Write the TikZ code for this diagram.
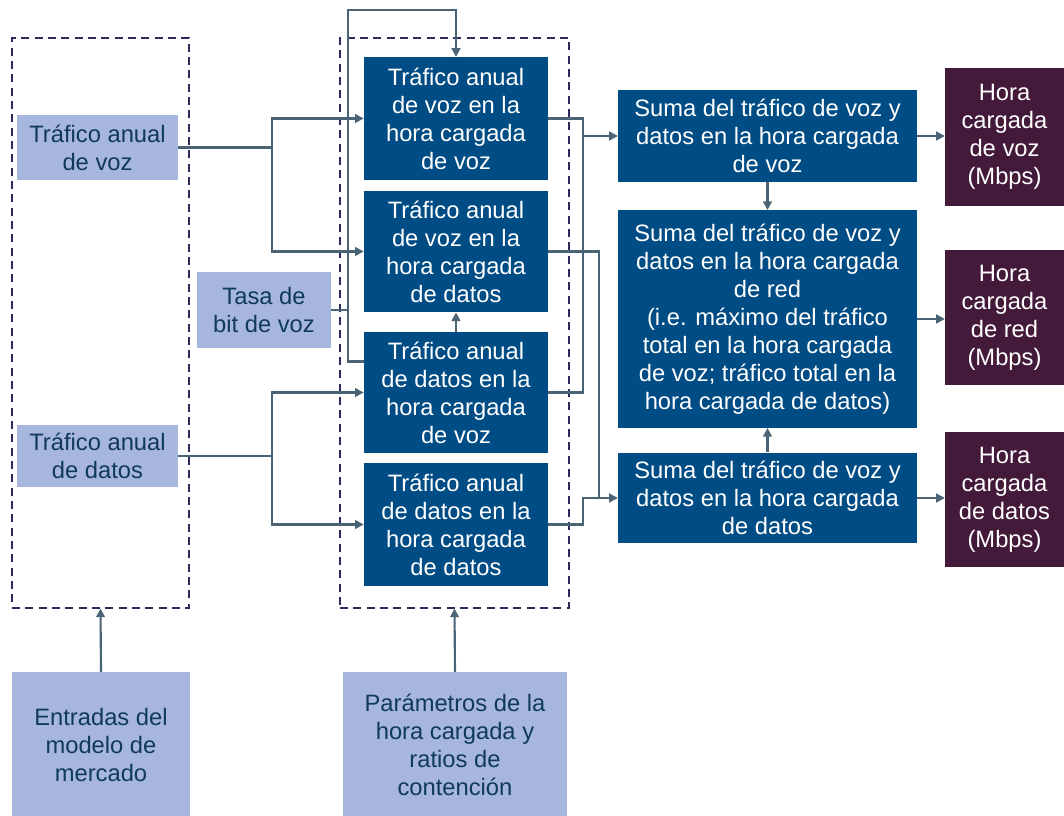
\documentclass[tikz,border=0pt]{standalone}
\usepackage{fontspec}
\setmainfont{Liberation Sans}
\usetikzlibrary{arrows.meta,calc}
\definecolor{lightbox}{HTML}{A6B6DC}
\definecolor{darkbox}{HTML}{004C84}
\definecolor{plumbox}{HTML}{441A3A}
\definecolor{wire}{HTML}{4A6476}
\definecolor{frameline}{HTML}{2C2B5E}
\definecolor{inktext}{HTML}{103A5C}
\begin{document}
\begin{tikzpicture}[x=0.75pt,y=-0.75pt,
    every node/.style={font=\fontsize{17.8}{21}\selectfont, align=center, inner sep=0pt},
    inbox/.style={fill=lightbox, text=inktext},
    calcbox/.style={fill=darkbox, text=white},
    outbox/.style={fill=plumbox, text=white},
    frame/.style={draw=frameline, line width=1.3pt, dash pattern=on 6pt off 4pt},
    arr/.style={draw=wire, line width=1.6pt, -{Triangle[length=6.5pt,width=6.5pt]}},
    wireline/.style={draw=wire, line width=1.6pt}]
  \useasboundingbox (0,0) rectangle (1064,816);

  \node[frame, minimum width=133pt, minimum height=427pt] (frameIn) at (100.5,323) {};
  \node[frame, minimum width=172pt, minimum height=427pt] (frameHc) at (454.5,323) {};

  \node[inbox, minimum width=121pt, minimum height=49pt] (inVoz) at (97.5,147.5) {Tráfico anual\\de voz};
  \node[inbox, minimum width=100pt, minimum height=57pt] (tasa) at (264,310) {Tasa de\\bit de voz};
  \node[inbox, minimum width=121pt, minimum height=47pt] (inDatos) at (97.5,456) {Tráfico anual\\de datos};
  \node[inbox, minimum width=134pt, minimum height=109pt] (entradas) at (101,745) {Entradas del\\modelo de\\mercado};
  \node[inbox, minimum width=168pt, minimum height=109pt] (param) at (455,745) {Parámetros de la\\hora cargada y\\ratios de\\contención};

  \node[calcbox, minimum width=138pt, minimum height=92pt] (d1) at (456,118.5) {Tráfico anual\\de voz en la\\hora cargada\\de voz};
  \node[calcbox, minimum width=138pt, minimum height=91pt] (d2) at (456,251.5) {Tráfico anual\\de voz en la\\hora cargada\\de datos};
  \node[calcbox, minimum width=138pt, minimum height=91pt] (d3) at (456,392.5) {Tráfico anual\\de datos en la\\hora cargada\\de voz};
  \node[calcbox, minimum width=138pt, minimum height=92pt] (d4) at (456,524.5) {Tráfico anual\\de datos en la\\hora cargada\\de datos};

  \node[calcbox, minimum width=224pt, minimum height=69pt] (s1) at (767.5,136) {Suma del tráfico de voz y\\datos en la hora cargada\\de voz};
  \node[calcbox, minimum width=224pt, minimum height=163pt] (s2) at (767.5,319) {Suma del tráfico de voz y\\datos en la hora cargada\\de red\\(i.e. máximo del tráfico\\total en la hora cargada\\de voz; tráfico total en la\\hora cargada de datos)};
  \node[calcbox, minimum width=224pt, minimum height=68pt] (s3) at (767.5,498) {Suma del tráfico de voz y\\datos en la hora cargada\\de datos};

  \node[outbox, minimum width=89pt, minimum height=103pt] (p1) at (1004.5,137) {Hora\\cargada\\de voz\\(Mbps)};
  \node[outbox, minimum width=89pt, minimum height=101pt] (p2) at (1004.5,317.5) {Hora\\cargada\\de red\\(Mbps)};
  \node[outbox, minimum width=89pt, minimum height=101pt] (p3) at (1004.5,499.5) {Hora\\cargada\\de datos\\(Mbps)};

  \coordinate (jv) at (272,147.5);
  \coordinate (jd) at (272,456);
  \coordinate (loopTop) at (348,10);
  \coordinate (mergeA) at (583,0);
  \coordinate (mergeB) at (599,0);

  \draw[wireline] (inVoz.east) -- (jv);
  \draw[arr] (jv) |- (d1.west);
  \draw[arr] (jv) |- (d2.west);
  \draw[wireline] (inDatos.east) -- (jd);
  \draw[arr] (jd) |- (d3.west);
  \draw[arr] (jd) |- (d4.west);

  \draw[arr] ($(d3.north west)+(0,30)$) -| (loopTop) -| (d1.north);
  \draw[wireline] (tasa.east) -- (tasa.east -| loopTop);
  \draw[arr] (d3.north) -- (d2.south);

  \draw[wireline] (d1.east) -| (mergeA |- d3.east) -- (d3.east);
  \draw[arr] (s1.west -| mergeA) -- (s1.west);
  \draw[wireline] (d2.east) -| (mergeB |- s3.west);
  \draw[arr] (d4.east) -| (mergeA |- s3.west) -- (s3.west);

  \draw[arr] (s1.south) -- (s2.north);
  \draw[arr] (s3.north) -- (s2.south);
  \draw[arr] (s1.east) -- (s1.east -| p1.west);
  \draw[arr] (s2.east) -- (s2.east -| p2.west);
  \draw[arr] (s3.east) -- (s3.east -| p3.west);

  \draw[arr] (entradas.north) -- (frameIn.south);
  \draw[arr] (param.north) -- (frameHc.south);
\end{tikzpicture}
\end{document}
